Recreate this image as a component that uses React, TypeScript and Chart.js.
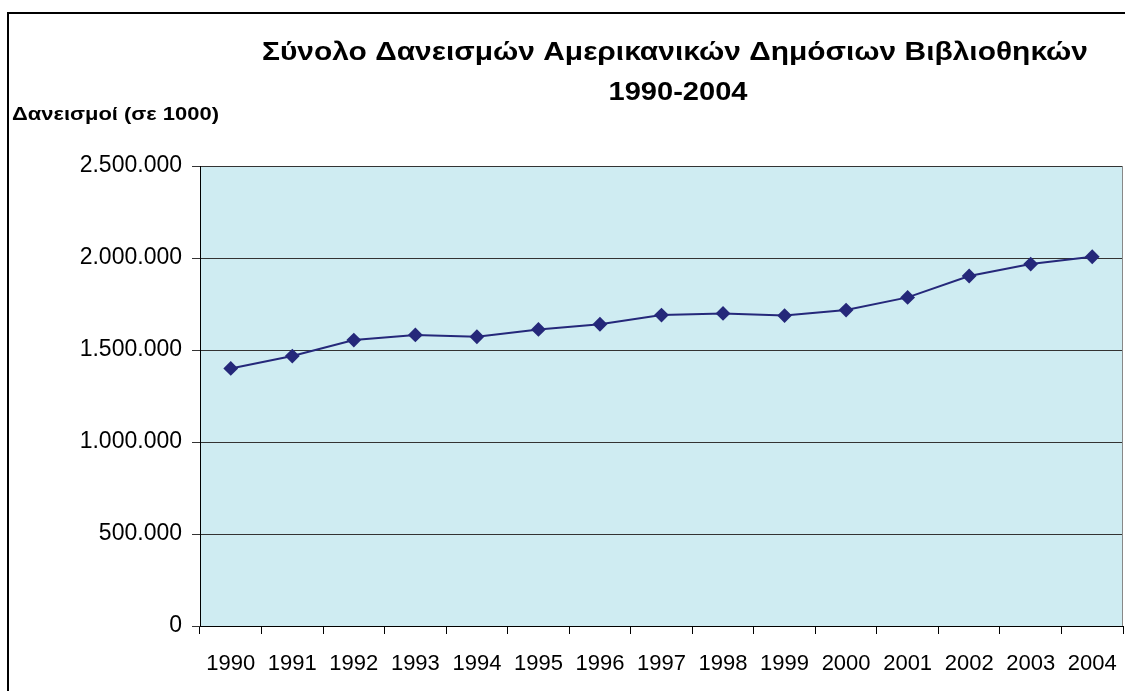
import React, { useEffect, useRef } from "react";
import { Chart, registerables } from "chart.js";

Chart.register(...registerables);

const titleLines = ["Σύνολο Δανεισμών Αμερικανικών Δημόσιων Βιβλιοθηκών", "1990-2004"];
const yAxisTitle = "Δανεισμοί (σε 1000)";
const years = ["1990", "1991", "1992", "1993", "1994", "1995", "1996", "1997", "1998", "1999", "2000", "2001", "2002", "2003", "2004"];
const loans = [1400000, 1467000, 1554000, 1582000, 1572000, 1612000, 1640000, 1690000, 1699000, 1687000, 1717000, 1786000, 1902000, 1967000, 2007000];
const yTicks = [0, 500000, 1000000, 1500000, 2000000, 2500000];

const FONT = "'Liberation Sans', Arial, sans-serif";

function fitText(ctx: any, text: string, x: number, y: number, width: number, align: "left" | "center") {
  const w = ctx.measureText(text).width;
  const s = width / w;
  ctx.save();
  ctx.translate(x, y);
  ctx.scale(s, 1);
  ctx.textAlign = align;
  ctx.fillText(text, 0, 0);
  ctx.restore();
}

const decor = {
  id: "decor",
  beforeDraw(chart: any) {
    const { ctx, chartArea } = chart;
    ctx.save();
    ctx.fillStyle = "#CFECF2";
    ctx.fillRect(chartArea.left, chartArea.top, chartArea.right - chartArea.left, chartArea.bottom - chartArea.top);
    ctx.strokeStyle = "#000";
    ctx.lineWidth = 2;
    ctx.beginPath();
    ctx.moveTo(8, 700);
    ctx.lineTo(8, 13);
    ctx.lineTo(1130, 13);
    ctx.stroke();
    ctx.restore();
  },
  afterDraw(chart: any) {
    const { ctx, chartArea } = chart;
    ctx.save();
    ctx.fillStyle = "#000";
    ctx.textBaseline = "middle";
    ctx.font = `bold 26px ${FONT}`;
    fitText(ctx, titleLines[0], 675, 53, 826, "center");
    fitText(ctx, titleLines[1], 678, 93, 139, "center");
    ctx.font = `bold 18px ${FONT}`;
    fitText(ctx, yAxisTitle, 12, 115, 207, "left");
    ctx.strokeStyle = "#888";
    ctx.lineWidth = 1;
    ctx.beginPath();
    ctx.moveTo(chartArea.right - 0.5, chartArea.top);
    ctx.lineTo(chartArea.right - 0.5, chartArea.bottom);
    ctx.stroke();
    ctx.restore();
  },
};

export default function App() {
  const ref = useRef<HTMLCanvasElement>(null);
  useEffect(() => {
    document.body.style.margin = "0";
    const chart = new Chart(ref.current!, {
      type: "line",
      data: {
        labels: years,
        datasets: [
          {
            data: loans,
            borderColor: "#25287A",
            backgroundColor: "#25287A",
            borderWidth: 2,
            pointStyle: "rectRot",
            pointRadius: 6,
            pointHoverRadius: 6,
            tension: 0,
          },
        ],
      },
      options: {
        responsive: false,
        animation: false,
        layout: { autoPadding: false, padding: { left: 0, top: 166, right: 2, bottom: 0 } },
        plugins: { legend: { display: false }, tooltip: { enabled: false }, title: { display: false } },
        scales: {
          x: {
            offset: true,
            grid: { offset: true, drawOnChartArea: false, drawTicks: true, tickLength: 8, color: "#000" },
            border: { color: "#000", width: 1 },
            ticks: { color: "#000", font: { family: FONT, size: 22 }, padding: 17, maxRotation: 0 },
            afterFit(scale: any) {
              scale.height = 65;
              scale.paddingLeft = 0;
              scale.paddingRight = 0;
            },
          },
          y: {
            min: 0,
            max: 2500000,
            afterBuildTicks(scale: any) {
              scale.ticks = yTicks.map((v) => ({ value: v }));
            },
            grid: { color: "#333", tickLength: 8, lineWidth: 1 },
            border: { color: "#000", width: 1 },
            ticks: {
              color: "#000",
              font: { family: FONT, size: 23 },
              padding: 10,
              callback: (v: any) => Number(v).toLocaleString("en-US").replace(/,/g, "."),
            },
            afterFit(scale: any) {
              scale.width = 200;
              scale.paddingTop = 0;
              scale.paddingBottom = 0;
            },
          },
        },
      },
      plugins: [decor],
    });
    return () => chart.destroy();
  }, []);
  return (
    <div style={{ position: "absolute", left: 0, top: 0, width: 1125, height: 691 }}>
      <canvas ref={ref} width={1125} height={691} style={{ width: 1125, height: 691 }} />
    </div>
  );
}
